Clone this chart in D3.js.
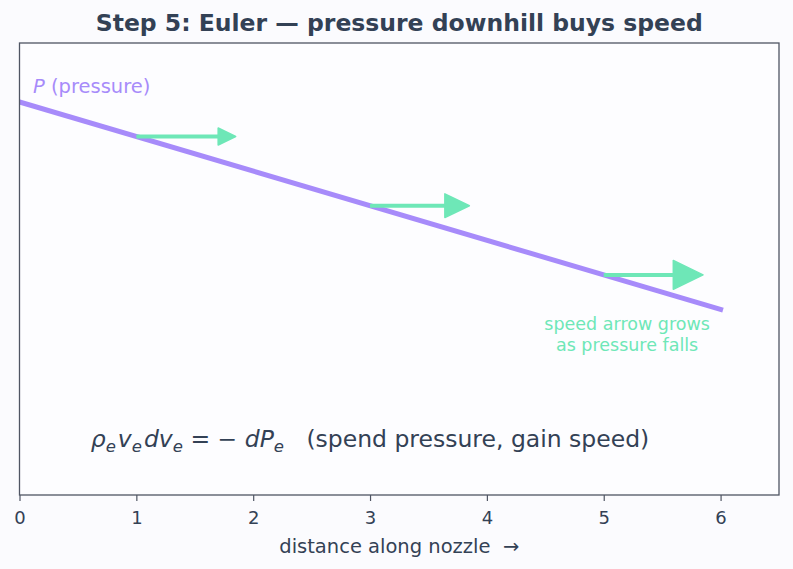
<!DOCTYPE html>
<html><head><meta charset="utf-8">
<script src="https://cdn.jsdelivr.net/npm/d3@7"></script>
<style>
html,body{margin:0;padding:0;background:#fbfbfe;}
svg{display:block;font-family:"DejaVu Sans",sans-serif;}
</style></head><body>
<svg id="c" width="793" height="569"></svg>
<script>
// ---- data ----
const lineX = [0, 6];
const pressure = [1.0, 0.472];
const arrowStart = [1, 3, 5];
const arrowEnd = [1.85, 3.85, 5.85];
const xTicks = [0, 1, 2, 3, 4, 5, 6];
const title = "Step 5: Euler — pressure downhill buys speed";
const xLabel = "distance along nozzle  →";
const noteLines = ["speed arrow grows", "as pressure falls"];

// ---- styles ----
const headScale = [1, 1.4, 1.7];
const violet = "#a78bfa", green = "#6ee7b7", ink = "#334155", spine = "#4f5563";

const W = 793, H = 569;
const m = {l: 19.5, r: 779, t: 43, b: 495};
const svg = d3.select("#c");
const x = d3.scaleLinear().domain([0, 6.5]).range([m.l, m.r]);
const y = d3.scaleLinear().domain([0, 1.15]).range([m.b, m.t]);
const pAt = d3.scaleLinear().domain(lineX).range(pressure);

svg.append("defs").append("clipPath").attr("id", "clip").append("rect")
  .attr("x", m.l).attr("y", m.t).attr("width", m.r - m.l).attr("height", m.b - m.t);

svg.append("rect").attr("width", W).attr("height", H).attr("fill", "#fbfbfe");
svg.append("rect").attr("x", m.l).attr("y", m.t).attr("width", m.r - m.l).attr("height", m.b - m.t)
  .attr("fill", "#fdfdff");

// line
svg.append("path")
  .datum(lineX.map((d, i) => [d, pressure[i]]))
  .attr("clip-path", "url(#clip)")
  .attr("d", d3.line().x(d => x(d[0])).y(d => y(d[1])))
  .attr("stroke", violet).attr("stroke-width", 5).attr("fill", "none").attr("stroke-linecap", "square");

// arrows
arrowStart.forEach((s, i) => {
  const yy = y(pAt(s));
  const x0 = x(s), x1 = x(arrowEnd[i]);
  const hl = 17.5 * headScale[i], hw = 8.5 * headScale[i];
  svg.append("line").attr("x1", x0).attr("y1", yy).attr("x2", x1 - hl * 0.6).attr("y2", yy)
    .attr("stroke", green).attr("stroke-width", 4);
  svg.append("path")
    .attr("d", `M${x1},${yy}L${x1 - hl},${yy - hw}L${x1 - hl},${yy + hw}Z`)
    .attr("fill", green).attr("stroke", green).attr("stroke-width", 1.5).attr("stroke-linejoin", "round");
});

// P label
const pl = svg.append("text").attr("x", 33).attr("y", 93).attr("fill", violet).attr("font-size", 19.5);
pl.append("tspan").attr("font-style", "italic").text("P");
pl.append("tspan").text(" (pressure)");

// note
const nt = svg.append("text").attr("text-anchor", "middle").attr("fill", green).attr("font-size", 17.5);
noteLines.forEach((t, i) => nt.append("tspan").attr("x", x(5.2)).attr("y", 329.5 + i * 21).text(t));

// equation
const eq = svg.append("text").attr("x", x(3)).attr("y", 447).attr("text-anchor", "middle")
  .attr("fill", ink).attr("font-size", 23.5).style("white-space", "pre");
const parts = [["ρ", "i"], ["e", "s"], ["v", "i"], ["e", "s"], ["dv", "i"], ["e", "s"],
  [" = − ", "n"], ["dP", "i"], ["e", "s"], ["   (spend pressure, gain speed)", "n"]];
parts.forEach(([t, k], i) => {
  const prev = i > 0 ? parts[i - 1][1] : "n";
  const ts = eq.append("tspan").text(t);
  if (k !== "n") ts.attr("font-style", "italic");
  if (k === "s") ts.attr("font-size", 16.5).attr("dy", 4.5);
  else if (prev === "s") ts.attr("dy", -4.5);
  if (k === "i" && prev === "s") ts.attr("dx", 2);
});

// frame
svg.append("rect").attr("x", m.l).attr("y", m.t).attr("width", m.r - m.l).attr("height", m.b - m.t)
  .attr("fill", "none").attr("stroke", spine).attr("stroke-width", 1.3);

// x axis
const ax = svg.append("g").attr("transform", `translate(0,${m.b})`)
  .call(d3.axisBottom(x).tickValues(xTicks).tickSize(6).tickPadding(10).tickFormat(d3.format("d")));
ax.select(".domain").remove();
ax.selectAll("line").attr("stroke", spine).attr("stroke-width", 1.2);
ax.selectAll("text").attr("fill", ink).attr("font-size", 18).attr("font-family", "DejaVu Sans");

svg.append("text").attr("x", (m.l + m.r) / 2).attr("y", 553).attr("text-anchor", "middle")
  .style("white-space", "pre")
  .attr("fill", ink).attr("font-size", 19.5).text(xLabel);

svg.append("text").attr("x", (m.l + m.r) / 2).attr("y", 30.5).attr("text-anchor", "middle")
  .attr("fill", ink).attr("font-size", 23.5).attr("font-weight", "bold").text(title);
</script></body></html>
